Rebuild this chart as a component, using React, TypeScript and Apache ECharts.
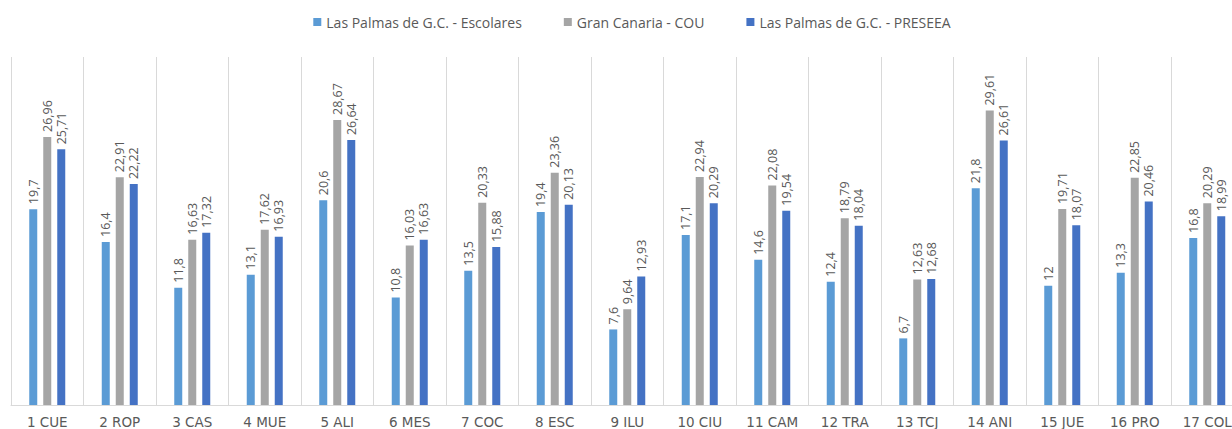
import React, { useEffect, useRef } from "react";
import * as echarts from "echarts";

const categories = [
  "1 CUE", "2 ROP", "3 CAS", "4 MUE", "5 ALI", "6 MES", "7 COC", "8 ESC", "9 ILU",
  "10 CIU", "11 CAM", "12 TRA", "13 TCJ", "14 ANI", "15 JUE", "16 PRO", "17 COL",
];

const escolares = [19.7, 16.4, 11.8, 13.1, 20.6, 10.8, 13.5, 19.4, 7.6, 17.1, 14.6, 12.4, 6.7, 21.8, 12, 13.3, 16.8];
const cou = [26.96, 22.91, 16.63, 17.62, 28.67, 16.03, 20.33, 23.36, 9.64, 22.94, 22.08, 18.79, 12.63, 29.61, 19.71, 22.85, 20.29];
const preseea = [25.71, 22.22, 17.32, 16.93, 26.64, 16.63, 15.88, 20.13, 12.93, 20.29, 19.54, 18.04, 12.68, 26.61, 18.07, 20.46, 18.99];

const seriesNames = [
  "Las Palmas de G.C. - Escolares",
  "Gran Canaria - COU",
  "Las Palmas de G.C. - PRESEEA",
];
const colors = ["#5B9BD5", "#A5A5A5", "#4472C4"];

const FONT = "'Open Sans', 'Noto Sans', sans-serif";
const TEXT = "#595959";

const fmt = (v: number) => String(v).replace(".", ",");

export default function App() {
  const ref = useRef<HTMLDivElement>(null);

  useEffect(() => {
    if (!ref.current) return;
    const chart = echarts.init(ref.current, undefined, { renderer: "svg" });
    const mkSeries = (name: string, data: number[], color: string) => ({
      name,
      type: "bar",
      data,
      barWidth: 8,
      barGap: "75%",
      itemStyle: { color },
      label: {
        show: true,
        position: "top",
        rotate: 90,
        align: "left",
        verticalAlign: "middle",
        distance: 5,
        color: TEXT,
        fontFamily: FONT,
        fontSize: 12.5,
        formatter: (p: any) => fmt(p.value),
      },
    });
    chart.setOption({
      animation: false,
      backgroundColor: "#ffffff",
      legend: {
        top: 10,
        left: "center",
        itemWidth: 8,
        itemHeight: 8,
        itemGap: 42,
        itemStyle: { borderWidth: 0 },
        icon: "rect",
        textStyle: { color: TEXT, fontFamily: FONT, fontSize: 14 },
        data: seriesNames,
      },
      grid: { left: 11, top: 57, width: 1232.5, bottom: 24, containLabel: false },
      xAxis: {
        type: "category",
        data: categories,
        boundaryGap: true,
        axisLine: { show: true, lineStyle: { color: "#D9D9D9" } },
        axisTick: { show: false },
        splitLine: { show: true, lineStyle: { color: "#D9D9D9", width: 1 } },
        axisLabel: {
          color: TEXT,
          fontFamily: "'DejaVu Sans', sans-serif",
          fontSize: 13.5,
          margin: 10,
          interval: 0,
        },
      },
      yAxis: {
        type: "value",
        min: 0,
        max: 35,
        show: false,
        splitLine: { show: false },
      },
      series: [
        mkSeries(seriesNames[0], escolares, colors[0]),
        mkSeries(seriesNames[1], cou, colors[1]),
        mkSeries(seriesNames[2], preseea, colors[2]),
      ],
    });
    return () => chart.dispose();
  }, []);

  return (
    <div
      style={{
        position: "fixed",
        left: 0,
        top: 0,
        width: 1232,
        height: 429,
        overflow: "hidden",
        background: "#fff",
      }}
    >
      <div ref={ref} style={{ width: 1264, height: 429 }} />
    </div>
  );
}
